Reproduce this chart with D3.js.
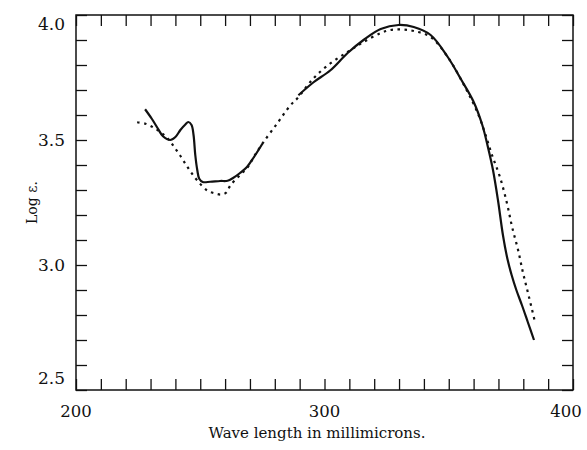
<!DOCTYPE html>
<html>
<head>
    <title>Log e vs wave length</title>
    <meta charset="utf-8" />
    <script src="https://d3js.org/d3.v7.min.js"></script>
    <style>
    body {
        margin: 0;
        background: #fff;
    }
    text {
        font-family: "DejaVu Serif", "Liberation Serif", serif;
        fill: #111;
    }
    .frame {
        fill: none;
        stroke: #111;
        stroke-width: 1.5px;
    }
    .tick line {
        stroke: #111;
        stroke-width: 1.3px;
    }
    .curve {
        fill: none;
        stroke: #111;
    }
    </style>
</head>
<body>
    <svg id="chart" width="587" height="450"></svg>
    <script>
        // values (nm, log e)
        var solidWave = [227.8, 230.5, 233.0, 235.0, 237.9, 240.0, 242.0, 244.0, 245.2, 246.5, 247.3, 248.0, 248.8, 249.6, 251.0, 254.0, 258.0, 261.0, 263.2, 266.0, 268.8, 271.5, 275.0,
                         null,
                         289.5, 295.6, 302.4, 309.3, 315.7, 322.6, 329.8, 335.9, 342.7, 349.6, 354.8, 359.9, 363.5, 365.8, 367.8, 369.8, 371.8, 373.6, 375.3, 377.2, 379.5, 381.8, 384.3];
        var solidLog  = [3.623, 3.585, 3.545, 3.515, 3.500, 3.512, 3.540, 3.562, 3.572, 3.560, 3.520, 3.440, 3.380, 3.345, 3.332, 3.333, 3.336, 3.337, 3.348, 3.368, 3.392, 3.430, 3.485,
                         null,
                         3.679, 3.731, 3.779, 3.848, 3.900, 3.944, 3.960, 3.952, 3.920, 3.832, 3.745, 3.655, 3.560, 3.470, 3.380, 3.260, 3.120, 3.025, 2.960, 2.900, 2.838, 2.772, 2.700];

        var dotWave = [224.6, 228.0, 231.0, 233.5, 236.0, 237.9, 240.0, 241.9, 244.0, 246.0, 248.8, 252.8, 256.0, 258.5, 260.5, 262.1, 266.0, 269.0, 272.0, 275.4, 281.0,
                       286.3, 289.1, 295.6, 302.4, 309.3, 315.7, 322.6, 326.6, 331.0, 335.9, 342.7, 349.6, 356.9, 361.7, 364.5, 367.4, 370.6, 373.4, 375.5, 377.9, 379.9, 381.9, 384.7];
        var dotLog  = [3.571, 3.565, 3.551, 3.535, 3.515, 3.495, 3.465, 3.438, 3.405, 3.375, 3.338, 3.298, 3.286, 3.282, 3.290, 3.318, 3.360, 3.390, 3.440, 3.491, 3.567,
                       3.639, 3.667, 3.747, 3.807, 3.852, 3.892, 3.928, 3.940, 3.942, 3.936, 3.912, 3.832, 3.705, 3.607, 3.530, 3.440, 3.352, 3.248, 3.152, 3.060, 2.968, 2.888, 2.772];

        var xTickVals = [200, 300, 400];
        var xTickLabels = ["200", "300", "400"];
        var yTickVals = [2.5, 3.0, 3.5, 4.0];
        var yTickLabels = ["2.5", "3.0", "3.5", "4.0"];

        var margin = {top: 15, right: 14, bottom: 60, left: 76},
            width = 587 - margin.left - margin.right,
            height = 450 - margin.top - margin.bottom;

        var svg = d3.select("#chart"),
            g = svg.append("g")
                .attr("transform", "translate(" + margin.left + "," + margin.top + ")");

        var x = d3.scaleLinear().domain([200, 400]).range([0, width]),
            y = d3.scaleLinear().domain([2.5, 4.0]).range([height, 0]);

        // minor ticks on all four sides, pointing inward
        var xMinor = d3.range(200, 401, 10),
            yMinor = d3.range(25, 41).map(function(d) { return d / 10; });

        g.append("g")
            .attr("transform", "translate(0," + height + ")")
            .call(d3.axisBottom(x).tickValues(xMinor).tickSize(-11).tickFormat(""))
            .select(".domain").remove();
        g.append("g")
            .call(d3.axisTop(x).tickValues(xMinor).tickSize(-11).tickFormat(""))
            .select(".domain").remove();
        g.append("g")
            .call(d3.axisLeft(y).tickValues(yMinor).tickSize(-11).tickFormat(""))
            .select(".domain").remove();
        g.append("g")
            .attr("transform", "translate(" + width + ",0)")
            .call(d3.axisRight(y).tickValues(yMinor).tickSize(-11).tickFormat(""))
            .select(".domain").remove();

        g.append("rect")
            .attr("class", "frame")
            .attr("width", width)
            .attr("height", height);

        // tick labels (last one pulled in so it stays on the page)
        g.selectAll(".xlab")
            .data(xTickVals)
            .enter().append("text")
            .attr("x", function(d) { return Math.min(x(d), width - 7); })
            .attr("y", height + 27)
            .attr("text-anchor", "middle")
            .style("font-size", "16.5px")
            .text(function(d, i) { return xTickLabels[i]; });

        // end labels sit a bit inside the frame, as in the print
        g.selectAll(".ylab")
            .data(yTickVals)
            .enter().append("text")
            .attr("x", -11)
            .attr("y", function(d) { return Math.min(Math.max(y(d), 9), height - 12); })
            .attr("dy", "0.35em")
            .attr("text-anchor", "end")
            .style("font-size", "17px")
            .text(function(d, i) { return yTickLabels[i]; });

        svg.append("text")
            .attr("x", 317)
            .attr("y", 438)
            .attr("text-anchor", "middle")
            .style("font-size", "15px")
            .text("Wave length in millimicrons.");

        svg.append("text")
            .attr("transform", "translate(37," + (margin.top + y(3.25)) + ") rotate(-90)")
            .attr("text-anchor", "middle")
            .style("font-size", "14px")
            .text("Log \u03b5.");

        // curves
        var line = d3.line()
            .defined(function(d) { return d[0] != null; })
            .x(function(d) { return x(d[0]); })
            .y(function(d) { return y(d[1]); })
            .curve(d3.curveCatmullRom.alpha(0.5));

        var solid = solidWave.map(function(w, i) { return [w, solidLog[i]]; }),
            dotted = dotWave.map(function(w, i) { return [w, dotLog[i]]; });

        g.append("path")
            .datum(dotted)
            .attr("class", "curve")
            .attr("stroke-width", 2.2)
            .attr("stroke-dasharray", "2.5,4.5")
            .attr("d", line);

        g.append("path")
            .datum(solid)
            .attr("class", "curve")
            .attr("stroke-width", 2.2)
            .attr("d", line);
    </script>
</body>
</html>
